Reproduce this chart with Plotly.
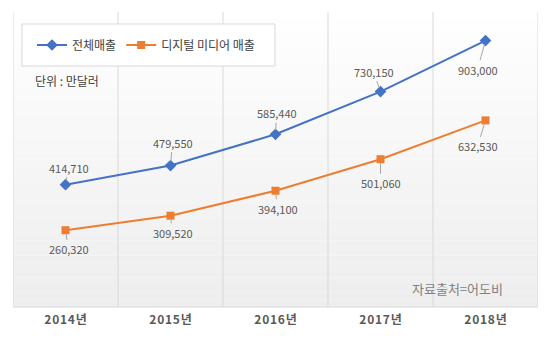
import plotly.graph_objects as go

years = ["2014년", "2015년", "2016년", "2017년", "2018년"]
total_sales = [414710, 479550, 585440, 730150, 903000]
digital_sales = [260320, 309520, 394100, 501060, 632530]
total_label_offsets = [(3, -17), (2, -23), (1, -21), (-7, -20), (-8, 29)]
digital_label_offsets = [(3, 19), (2, 17), (2, 18), (0, 24), (-8, 26)]

FONT = "Noto Sans CJK KR"
BLUE = "#4472C4"
ORANGE = "#ED7D31"

xs = list(range(len(years)))
spaced_years = ["\u200a".join(y) for y in years]

fig = go.Figure()

fig.add_trace(go.Scatter(
    x=xs, y=total_sales, mode="lines+markers", name="전체매출",
    line=dict(color=BLUE, width=2),
    marker=dict(symbol="diamond", size=9, color=BLUE),
))
fig.add_trace(go.Scatter(
    x=xs, y=digital_sales, mode="lines+markers", name="디지털 미디어 매출",
    line=dict(color=ORANGE, width=2),
    marker=dict(symbol="square", size=8, color=ORANGE),
))

annotations = []
for series, offs in ((total_sales, total_label_offsets), (digital_sales, digital_label_offsets)):
    for x, v, (dx, dy) in zip(xs, series, offs):
        annotations.append(dict(
            x=x, y=v, xref="x", yref="y", text=f"{v:,}",
            showarrow=True, arrowhead=0, arrowwidth=1, arrowcolor="#a6a6a6",
            ax=dx, ay=dy, standoff=4,
            font=dict(family=FONT, size=11, color="#595959"),
        ))

annotations.append(dict(
    x=33, y=80, text="단위 : 만달러", showarrow=False,
    xanchor="left", yanchor="middle",
    font=dict(family=FONT, size=12, color="#404040"),
))
annotations.append(dict(
    x=505, y=288, text="자료출처=어도비", showarrow=False,
    xanchor="right", yanchor="middle",
    font=dict(family=FONT, size=13, color="#7f7f7f"),
))

L, R, T, B = 13, 13, 12, 32
W, H = 551, 339
pw, ph = W - L - R, H - T - B
for a in annotations[-2:]:
    a["x"] = (a["x"] - L) / pw
    a["y"] = 1 - (a["y"] - T) / ph
    a["xref"] = "paper"
    a["yref"] = "paper"

shapes = []
n = 40
for i in range(n):
    t = i / (n - 1)
    c = int(255 - 17 * t)
    shapes.append(dict(
        type="rect", xref="paper", yref="paper",
        x0=0, x1=1, y0=1 - (i + 1) / n, y1=1 - i / n,
        fillcolor=f"rgb({c},{c},{c})", line=dict(width=0), layer="below",
    ))
for k in range(len(years) + 1):
    shapes.append(dict(
        type="line", xref="x", yref="paper", x0=k - 0.5, x1=k - 0.5, y0=0, y1=1,
        line=dict(color="#d9d9d9", width=1), layer="below",
    ))
shapes.append(dict(
    type="line", xref="paper", yref="paper", x0=0, x1=1, y0=0, y1=0,
    line=dict(color="#d9d9d9", width=1), layer="below",
))
shapes.append(dict(
    type="rect", xref="paper", yref="paper",
    x0=(22 - L) / pw, x1=(275 - L) / pw,
    y0=1 - (66 - T) / ph, y1=1 - (24 - T) / ph,
    fillcolor="white", line=dict(color="#d9d9d9", width=1), layer="above",
))

fig.update_layout(
    width=W, height=H,
    margin=dict(l=L, r=R, t=T, b=B),
    paper_bgcolor="white", plot_bgcolor="white",
    showlegend=True,
    legend=dict(
        orientation="h", x=(32 - L) / pw, y=1 - (45 - T) / ph,
        xanchor="left", yanchor="middle",
        bgcolor="rgba(0,0,0,0)", borderwidth=0,
        font=dict(family=FONT, size=12, color="#404040"),
        itemwidth=30,
    ),
    xaxis=dict(
        range=[-0.5, len(years) - 0.5], tickvals=xs, ticktext=spaced_years,
        showgrid=False, zeroline=False, showline=False, ticks="",
        ticklabelstandoff=4,
        tickfont=dict(family=FONT, size=12, color="#595959", weight="bold"),
        fixedrange=True,
    ),
    yaxis=dict(range=[0, 1000000], visible=False, fixedrange=True),
    annotations=annotations,
    shapes=shapes,
    font=dict(family=FONT),
)

fig.write_html("out.html")
